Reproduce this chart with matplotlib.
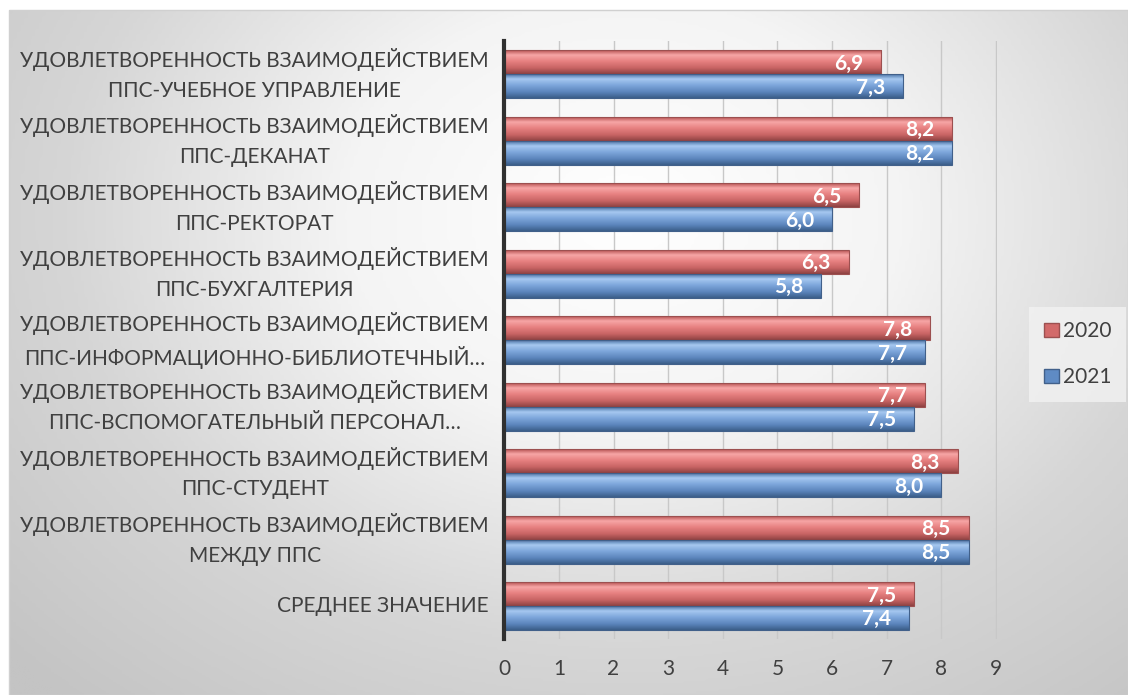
import numpy as np
import matplotlib
matplotlib.use('Agg')
import matplotlib.pyplot as plt
from matplotlib.colors import LinearSegmentedColormap
from matplotlib.patches import Patch, Rectangle

plt.rcParams['font.family'] = ['Lato', 'DejaVu Sans']

# data (top to bottom)
categories = [
    'УДОВЛЕТВОРЕННОСТЬ ВЗАИМОДЕЙСТВИЕМ\nППС-УЧЕБНОЕ УПРАВЛЕНИЕ',
    'УДОВЛЕТВОРЕННОСТЬ ВЗАИМОДЕЙСТВИЕМ\nППС-ДЕКАНАТ',
    'УДОВЛЕТВОРЕННОСТЬ ВЗАИМОДЕЙСТВИЕМ\nППС-РЕКТОРАТ',
    'УДОВЛЕТВОРЕННОСТЬ ВЗАИМОДЕЙСТВИЕМ\nППС-БУХГАЛТЕРИЯ',
    'УДОВЛЕТВОРЕННОСТЬ ВЗАИМОДЕЙСТВИЕМ\nППС-ИНФОРМАЦИОННО-БИБЛИОТЕЧНЫЙ…',
    'УДОВЛЕТВОРЕННОСТЬ ВЗАИМОДЕЙСТВИЕМ\nППС-ВСПОМОГАТЕЛЬНЫЙ ПЕРСОНАЛ…',
    'УДОВЛЕТВОРЕННОСТЬ ВЗАИМОДЕЙСТВИЕМ\nППС-СТУДЕНТ',
    'УДОВЛЕТВОРЕННОСТЬ ВЗАИМОДЕЙСТВИЕМ\nМЕЖДУ ППС',
    'СРЕДНЕЕ ЗНАЧЕНИЕ',
]
values_2020 = [6.9, 8.2, 6.5, 6.3, 7.8, 7.7, 8.3, 8.5, 7.5]
values_2021 = [7.3, 8.2, 6.0, 5.8, 7.7, 7.5, 8.0, 8.5, 7.4]
x_ticks = list(range(0, 10))

# colours: edge, light band, middle, dark bottom
red_cmap = LinearSegmentedColormap.from_list(
    'red3d', [(0, '#B85454'), (0.2, '#F7A6A6'), (0.45, '#E88282'), (0.75, '#C86464'), (1, '#8E4242')])
blue_cmap = LinearSegmentedColormap.from_list(
    'blue3d', [(0, '#4A74A8'), (0.2, '#A6C8F0'), (0.45, '#7FA8DC'), (0.75, '#5B85BC'), (1, '#3C5E8A')])

fig = plt.figure(figsize=(11.28, 6.95), dpi=100)
fig.patch.set_facecolor('white')

# background gradient (light centre, grey edges)
bg = fig.add_axes([0.008, 0, 0.992, 0.986], zorder=-10)
gx, gy = np.meshgrid(np.linspace(0, 1, 300), np.linspace(0, 1, 300))
dist = np.sqrt(((gx - 0.55) / 0.75) ** 2 + ((gy - 0.3) / 0.95) ** 2)
bg_cmap = LinearSegmentedColormap.from_list('bg', ['#FFFFFF', '#F4F4F4', '#D6D6D6', '#C4C4C4'])
bg.imshow(np.clip(dist, 0, 1), cmap=bg_cmap, aspect='auto', extent=[0, 1, 0, 1], origin='upper',
          vmin=0, vmax=1)
bg.axis('off')
fig.patches.append(Rectangle((0.008, 0.0), 0.992, 0.986, transform=fig.transFigure,
                             fill=False, edgecolor='#D0D0D0', linewidth=1))

ax = fig.add_axes([0.447, 0.08, 0.437, 0.861])
ax.set_facecolor('none')

y = np.arange(len(categories))
h = 0.36
bars_2020 = ax.barh(y - 0.18, values_2020, height=h, color='none', edgecolor='#9C5050', linewidth=0.8, zorder=3)
bars_2021 = ax.barh(y + 0.18, values_2021, height=h, color='none', edgecolor='#41608A', linewidth=0.8, zorder=3)

gradient = np.linspace(0, 1, 64).reshape(-1, 1)
for bars, cmap in ((bars_2020, red_cmap), (bars_2021, blue_cmap)):
    for p in bars:
        x0, y0 = p.get_x(), p.get_y()
        w, hh = p.get_width(), p.get_height()
        im = ax.imshow(gradient, cmap=cmap, aspect='auto', extent=[x0, x0 + w, y0 + hh, y0],
                       origin='upper', zorder=2)
        im.set_clip_path(p)

for bars, vals in ((bars_2020, values_2020), (bars_2021, values_2021)):
    for p, v in zip(bars, vals):
        ax.text(v - 0.33, p.get_y() + p.get_height() / 2 + 0.02, f'{v:.1f}'.replace('.', ','),
                ha='right', va='center', color='white', fontsize=15, fontweight='bold', zorder=4)

ax.set_xlim(0, 9.02)
ax.set_ylim(len(categories) - 0.5, -0.5)
ax.set_xticks(x_ticks)
ax.set_xticklabels([str(t) for t in x_ticks], fontsize=15, color='#404040')
ax.set_yticks(y)
ax.set_yticklabels(categories, fontsize=15, color='#404040', multialignment='center',
                   linespacing=1.6, va='center')
ax.tick_params(axis='both', length=0)
ax.tick_params(axis='x', pad=14)
ax.tick_params(axis='y', pad=11)
ax.grid(axis='x', color='#C8C8C8', linewidth=1, zorder=0)
ax.set_axisbelow(True)
for s in ('top', 'right', 'bottom'):
    ax.spines[s].set_visible(False)
ax.spines['left'].set_color('#303030')
ax.spines['left'].set_linewidth(3)
ax.spines['left'].set_zorder(5)

handles = [Patch(facecolor='#D26A6A', edgecolor='#9C5050', label='2020'),
           Patch(facecolor='#5F8BC4', edgecolor='#41608A', label='2021')]
leg = fig.legend(handles=handles, loc='center left', bbox_to_anchor=(0.903, 0.49), frameon=True,
                 fontsize=15, labelspacing=1.25, handlelength=0.75, handleheight=0.65, handletextpad=0.2,
                 labelcolor='#404040', borderpad=0.7, fancybox=False)
leg.get_frame().set_facecolor('#F2F2F2')
leg.get_frame().set_edgecolor('none')
leg.get_frame().set_alpha(0.8)

fig.savefig('out.png', dpi=100)
